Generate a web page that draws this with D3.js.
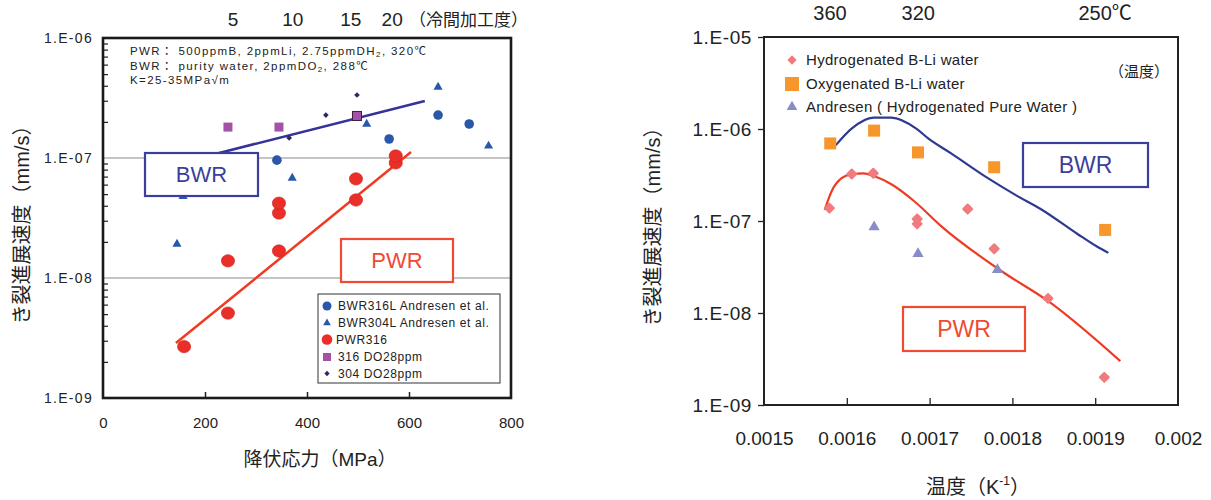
<!DOCTYPE html>
<html>
<head>
<meta charset="utf-8">
<script src="https://cdn.jsdelivr.net/npm/d3@7"></script>
<style>
  body { margin: 0; background: #fff; }
  text { font-family: "Liberation Sans", Arial, "Noto Sans CJK JP", sans-serif; }
</style>
</head>
<body>
<svg id="chart"></svg>
<script>
// two panels: crack growth rate vs yield stress (left), vs 1/T (right)
const width = 1211;
const height = 500;

const svg = d3.select("#chart")
    .attr("width", width)
    .attr("height", height);

// ---- left panel data: [yield stress MPa, rate mm/s]
const bwr316L = [[341, 9.6e-8], [561, 1.44e-7], [657, 2.28e-7], [718, 1.92e-7]];
const bwr304L = [[145, 1.92e-8], [157, 4.8e-8], [371, 6.8e-8], [517, 1.92e-7], [657, 3.9e-7], [756, 1.26e-7]];
const pwr316 = [[159, 2.68e-9], [245, 5.1e-9], [245, 1.39e-8], [345, 1.68e-8], [345, 3.48e-8],
                [345, 4.2e-8], [496, 4.47e-8], [496, 6.7e-8], [574, 9.1e-8], [574, 1.04e-7]];
const do316 = [[245, 1.81e-7], [345, 1.81e-7], [498, 2.24e-7]];
const do304 = [[365, 1.47e-7], [437, 2.28e-7], [498, 3.35e-7]];
const bwrTrendL = [[220, 1.08e-7], [631, 2.99e-7]];
const pwrTrendL = [[143, 2.87e-9], [604, 1.12e-7]];
const leftYTicks = [1e-9, 1e-8, 1e-7, 1e-6];
const leftXTicks = [0, 200, 400, 600, 800];
const coldWork = [5, 10, 15, 20];
const coldWorkStress = [255, 372, 486, 567];

// ---- right panel data: [1/T, rate mm/s]
const hydroBLi = [[0.001579, 1.38e-7], [0.001606, 3.24e-7], [0.001632, 3.3e-7], [0.001685, 1.05e-7],
                  [0.001685, 9.3e-8], [0.001746, 1.35e-7], [0.001778, 5.0e-8], [0.001843, 1.44e-8], [0.001911, 2.0e-9]];
const oxyBLi = [[0.00158, 6.97e-7], [0.001633, 9.6e-7], [0.001686, 5.57e-7], [0.001778, 3.84e-7], [0.001912, 8.0e-8]];
const andresen = [[0.001633, 8.6e-8], [0.001686, 4.4e-8], [0.001782, 2.95e-8]];
const bwrCurve = [[0.0015865, 6.64e-7], [0.0016058, 1.01e-6], [0.0016322, 1.33e-6], [0.0016538, 1.33e-6],
                  [0.0016839, 1.01e-6], [0.0016983, 7.9e-7], [0.001726, 5.43e-7], [0.0017704, 2.92e-7],
                  [0.0018041, 1.91e-7], [0.0018341, 1.35e-7], [0.0018786, 7.23e-8], [0.0019026, 5.24e-8], [0.0019159, 4.5e-8]];
const pwrCurve = [[0.0015733, 1.32e-7], [0.0015817, 2.11e-7], [0.0015937, 2.92e-7], [0.0016058, 3.22e-7],
                  [0.0016202, 3.3e-7], [0.0016334, 3.06e-7], [0.0016538, 2.51e-7], [0.0016815, 1.64e-7],
                  [0.0017139, 8.8e-8], [0.0017861, 2.88e-8], [0.0018425, 1.36e-8], [0.0019303, 3.0e-9]];
const rightYTicks = [1e-9, 1e-8, 1e-7, 1e-6, 1e-5];
const rightXTicks = [0.0015, 0.0016, 0.0017, 0.0018, 0.0019, 0.002];
const tempLabels = [360, 320, 250];

const expLabel = d => "1.E-" + String(-Math.round(Math.log10(d))).padStart(2, "0");

// =================== LEFT PANEL ===================
const xL = d3.scaleLinear().domain([0, 800]).range([103, 511]);
const yL = d3.scaleLog().domain([1e-9, 1e-6]).range([398, 38]);
const left = svg.append("g");

// gridlines
left.selectAll(".grid")
    .data([1e-8, 1e-7])
    .enter().append("line")
    .attr("x1", xL(0)).attr("x2", xL(800))
    .attr("y1", d => yL(d)).attr("y2", d => yL(d))
    .style("stroke", "#8a8a8a").style("stroke-width", 1);

// minor ticks inside left edge
const minorL = [];
[-9, -8, -7].forEach(e => { for (let m = 2; m <= 9; m++) minorL.push(m * Math.pow(10, e)); });
left.append("g")
    .attr("transform", `translate(${xL(0)},0)`)
    .call(d3.axisRight(yL).tickValues(minorL).tickSize(5).tickFormat(""))
    .call(g => g.select(".domain").remove())
    .call(g => g.selectAll("line").style("stroke", "#222").style("stroke-width", 1.2));

// bottom inner ticks
left.append("g")
    .attr("transform", `translate(0,${yL(1e-9)})`)
    .call(d3.axisTop(xL).tickValues([200, 400, 600]).tickSize(6).tickFormat(""))
    .call(g => g.select(".domain").remove())
    .call(g => g.selectAll("line").style("stroke", "#222").style("stroke-width", 1.5));

// y labels
left.append("g")
    .attr("transform", `translate(${xL(0)},0)`)
    .call(d3.axisLeft(yL).tickValues(leftYTicks).tickSize(0).tickPadding(10).tickFormat(expLabel))
    .call(g => g.select(".domain").remove())
    .call(g => g.selectAll("text").style("font-size", "14px").style("letter-spacing", "1.3px")
        .style("fill", "#222").style("font-family", '"Liberation Sans", Arial, sans-serif'));

// x labels
left.append("g")
    .attr("transform", `translate(0,${yL(1e-9)})`)
    .call(d3.axisBottom(xL).tickValues(leftXTicks).tickSize(0).tickPadding(19).tickFormat(d3.format("d")))
    .call(g => g.select(".domain").remove())
    .call(g => g.selectAll("text").style("font-size", "15px").style("fill", "#222")
        .style("font-family", '"Liberation Sans", Arial, sans-serif'));

// trend lines
const lineL = d3.line().x(d => xL(d[0])).y(d => yL(d[1]));
left.append("path").attr("d", lineL(bwrTrendL))
    .style("fill", "none").style("stroke", "#33339a").style("stroke-width", 2.5);
left.append("path").attr("d", lineL(pwrTrendL))
    .style("fill", "none").style("stroke", "#f03a22").style("stroke-width", 2.5);

// markers
left.selectAll(".b316").data(bwr316L).enter().append("circle")
    .attr("cx", d => xL(d[0])).attr("cy", d => yL(d[1])).attr("r", 4.8)
    .style("fill", "#2a58a8");
left.selectAll(".b304").data(bwr304L).enter().append("path")
    .attr("transform", d => `translate(${xL(d[0])},${yL(d[1])})`)
    .attr("d", d3.symbol(d3.symbolTriangle, 36))
    .style("fill", "#2a58a8");
left.selectAll(".do304").data(do304).enter().append("path")
    .attr("transform", d => `translate(${xL(d[0])},${yL(d[1])}) rotate(45)`)
    .attr("d", d3.symbol(d3.symbolSquare, 16))
    .style("fill", "#2a2a66");
left.selectAll(".do316").data(do316).enter().append("rect")
    .attr("x", d => xL(d[0]) - 4.5).attr("y", d => yL(d[1]) - 4.5)
    .attr("width", 9).attr("height", 9)
    .style("fill", "#a452a8")
    .style("stroke", (d, i) => i === 2 ? "#3a2040" : "none").style("stroke-width", 1);
left.selectAll(".p316").data(pwr316).enter().append("ellipse")
    .attr("cx", d => xL(d[0])).attr("cy", d => yL(d[1])).attr("rx", 6.6).attr("ry", 6.2)
    .style("fill", "#ea2e28").style("stroke", "#d02020").style("stroke-width", 0.6);

// frame
left.append("rect")
    .attr("x", xL(0)).attr("y", yL(1e-6))
    .attr("width", xL(800) - xL(0)).attr("height", yL(1e-9) - yL(1e-6))
    .style("fill", "none").style("stroke", "#1a1a1a").style("stroke-width", 2.6);

// BWR / PWR boxes
function labelBox(g, x, y, w, h, txt, color, fs) {
    g.append("rect").attr("x", x).attr("y", y).attr("width", w).attr("height", h)
        .style("fill", "#fff").style("stroke", color).style("stroke-width", 2.2);
    g.append("text").attr("x", x + w / 2).attr("y", y + h / 2).attr("dy", "0.36em")
        .attr("text-anchor", "middle").style("font-size", fs + "px").style("fill", color)
        .text(txt);
}
labelBox(left, 145, 153, 113, 43, "BWR", "#3b3f9c", 22);
labelBox(left, 341, 239, 112, 43, "PWR", "#f04a32", 22);

// condition text
const cond = left.append("g").style("font-size", "11.5px").style("fill", "#222").style("letter-spacing", "1.4px");
const c1 = cond.append("text").attr("x", 130).attr("y", 55);
c1.append("tspan").text("PWR：  500ppmB, 2ppmLi, 2.75ppmDH");
c1.append("tspan").text("2").style("font-size", "8px").attr("dy", 2);
c1.append("tspan").text(",   320℃").attr("dy", -2);
const c2 = cond.append("text").attr("x", 130).attr("y", 70);
c2.append("tspan").text("BWR：  purity water, 2ppmDO");
c2.append("tspan").text("2").style("font-size", "8px").attr("dy", 2);
c2.append("tspan").text(", 288℃").attr("dy", -2);
cond.append("text").attr("x", 130).attr("y", 84).text("K=25-35MPa√m");

// legend
const legL = left.append("g");
legL.append("rect").attr("x", 318).attr("y", 294).attr("width", 182).attr("height", 89)
    .style("fill", "#fff").style("stroke", "#333").style("stroke-width", 1);
const legItems = ["BWR316L   Andresen et al.", "BWR304L   Andresen et al.", "PWR316", "316 DO28ppm", "304 DO28ppm"];
const legY = [306, 323, 339.5, 357, 373.5];
legItems.forEach((t, i) => {
    legL.append("text").attr("x", i === 2 ? 336 : 338).attr("y", legY[i]).attr("dy", "0.36em")
        .style("font-size", "12px").style("letter-spacing", "0.6px").style("fill", "#222").text(t);
});
legL.append("circle").attr("cx", 327).attr("cy", legY[0]).attr("r", 4.5).style("fill", "#2a58a8");
legL.append("path").attr("transform", `translate(327,${legY[1]})`)
    .attr("d", d3.symbol(d3.symbolTriangle, 26)).style("fill", "#2a58a8");
legL.append("circle").attr("cx", 327).attr("cy", legY[2]).attr("r", 5.3).style("fill", "#ea2e28");
legL.append("rect").attr("x", 323).attr("y", legY[3] - 4).attr("width", 8).attr("height", 8).style("fill", "#a452a8");
legL.append("path").attr("transform", `translate(327,${legY[4]}) rotate(45)`)
    .attr("d", d3.symbol(d3.symbolSquare, 14)).style("fill", "#2a2a66");

// top cold-work labels
coldWork.forEach((c, i) => {
    left.append("text").attr("x", xL(coldWorkStress[i])).attr("y", 26)
        .attr("text-anchor", "middle").style("font-size", "19px").style("fill", "#222").text(c);
});
left.append("text").attr("x", 409).attr("y", 26).style("font-size", "17px").style("fill", "#222")
    .text("（冷間加工度）");

// axis titles
left.append("text").attr("x", 320).attr("y", 466).attr("text-anchor", "middle")
    .style("font-size", "19px").style("fill", "#222").text("降伏応力（MPa）");
left.append("text").attr("transform", "translate(29,220) rotate(-90)").attr("text-anchor", "middle")
    .style("font-size", "20px").style("fill", "#222").text("き裂進展速度（mm/s）");

// =================== RIGHT PANEL ===================
const xR = d3.scaleLinear().domain([0.0015, 0.002]).range([764, 1178]);
const yR = d3.scaleLog().domain([1e-9, 1e-5]).range([405, 37]);
const right = svg.append("g");

right.append("g")
    .attr("transform", `translate(${xR(0.0015)},0)`)
    .call(d3.axisLeft(yR).tickValues(rightYTicks).tickSize(6).tickPadding(6).tickFormat(expLabel))
    .call(g => g.select(".domain").remove())
    .call(g => g.selectAll("line").style("stroke", "#222").style("stroke-width", 1.3))
    .call(g => g.selectAll("text").style("font-size", "19px").style("letter-spacing", "0.6px").style("fill", "#222")
        .style("font-family", '"Liberation Sans", Arial, sans-serif'));

right.append("g")
    .attr("transform", `translate(0,${yR(1e-9)})`)
    .call(d3.axisTop(xR).tickValues([0.0016, 0.0017, 0.0018, 0.0019]).tickSize(7).tickFormat(""))
    .call(g => g.select(".domain").remove())
    .call(g => g.selectAll("line").style("stroke", "#222").style("stroke-width", 1.3));

right.append("g")
    .attr("transform", `translate(0,${yR(1e-9)})`)
    .call(d3.axisBottom(xR).tickValues(rightXTicks).tickSize(0).tickPadding(27).tickFormat(d => String(+d.toFixed(4))))
    .call(g => g.select(".domain").remove())
    .call(g => g.selectAll("text").style("font-size", "19px").style("fill", "#222")
        .style("font-family", '"Liberation Sans", Arial, sans-serif'));

right.append("rect")
    .attr("x", xR(0.0015)).attr("y", yR(1e-5))
    .attr("width", xR(0.002) - xR(0.0015)).attr("height", yR(1e-9) - yR(1e-5))
    .style("fill", "none").style("stroke", "#222").style("stroke-width", 2);

labelBox(right, 1023, 143, 125, 44, "BWR", "#3b3f9c", 23);
labelBox(right, 903, 307, 122, 44, "PWR", "#f04a32", 23);

// curves
const lineR = d3.line().x(d => xR(d[0])).y(d => yR(d[1])).curve(d3.curveMonotoneX);
right.append("path").attr("d", lineR(bwrCurve))
    .style("fill", "none").style("stroke", "#2e3990").style("stroke-width", 2.2);
right.append("path").attr("d", lineR(pwrCurve))
    .style("fill", "none").style("stroke", "#ef3b24").style("stroke-width", 2.2);

// markers
right.selectAll(".hb").data(hydroBLi).enter().append("path")
    .attr("transform", d => `translate(${xR(d[0])},${yR(d[1])}) rotate(45)`)
    .attr("d", d3.symbol(d3.symbolSquare, 40))
    .style("fill", "#f07b7e").style("stroke", "#f07b7e").style("stroke-width", 2).style("stroke-linejoin", "round");
right.selectAll(".ob").data(oxyBLi).enter().append("rect")
    .attr("x", d => xR(d[0]) - 6).attr("y", d => yR(d[1]) - 6)
    .attr("width", 12).attr("height", 12)
    .style("fill", "#f7962a");
right.selectAll(".an").data(andresen).enter().append("path")
    .attr("transform", d => `translate(${xR(d[0])},${yR(d[1])})`)
    .attr("d", d3.symbol(d3.symbolTriangle, 55))
    .style("fill", "#8a8cc8");

// legend
const legR = right.append("g").style("font-size", "15px").style("fill", "#222");
const legRY = [60, 84, 107];
["Hydrogenated B-Li water", "Oxygenated B-Li water", "Andresen ( Hydrogenated Pure Water )"].forEach((t, i) => {
    legR.append("text").attr("x", 806).attr("y", legRY[i]).attr("dy", "0.36em")
        .style("letter-spacing", "0.3px").text(t);
});
legR.append("path").attr("transform", `translate(792,${legRY[0]}) rotate(45)`)
    .attr("d", d3.symbol(d3.symbolSquare, 26))
    .style("fill", "#f07b7e").style("stroke", "#f07b7e").style("stroke-width", 1.5).style("stroke-linejoin", "round");
legR.append("rect").attr("x", 785).attr("y", legRY[1] - 7).attr("width", 14).attr("height", 14).style("fill", "#f7962a");
legR.append("path").attr("transform", `translate(792,${legRY[2]})`)
    .attr("d", d3.symbol(d3.symbolTriangle, 50)).style("fill", "#8a8cc8");
legR.append("text").attr("x", 1139).attr("y", 72).attr("dy", "0.36em").attr("text-anchor", "middle")
    .style("font-size", "15px").text("（温度）");

// top temperature labels
tempLabels.forEach((t, i) => {
    right.append("text").attr("x", xR(1 / (t + 273))).attr("y", 20)
        .attr("text-anchor", "middle").style("font-size", "20px").style("fill", "#222")
        .text(i === tempLabels.length - 1 ? t + "℃" : t);
});

// axis titles
const xt = right.append("text").attr("x", 978).attr("y", 494).attr("text-anchor", "middle")
    .style("font-size", "20px").style("fill", "#222");
xt.append("tspan").text("温度（K");
xt.append("tspan").text("-1").style("font-size", "12px").attr("dy", -9);
xt.append("tspan").text("）").attr("dy", 9);
right.append("text").attr("transform", "translate(660,222) rotate(-90)").attr("text-anchor", "middle")
    .style("font-size", "20px").style("fill", "#222").text("き裂進展速度（mm/s）");
</script>
</body>
</html>
